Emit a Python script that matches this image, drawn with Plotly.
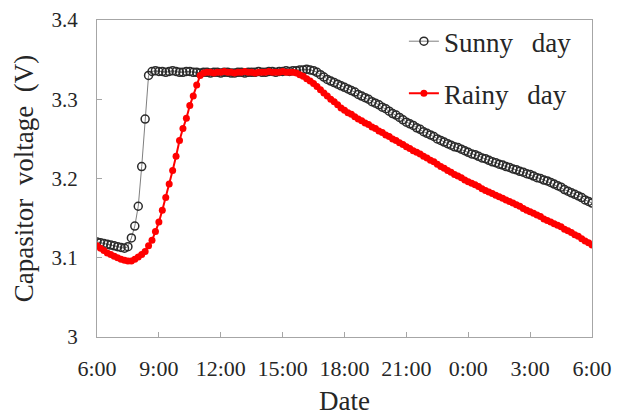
import pandas as pd
import plotly.graph_objects as go

# 10-minute samples from 6:00 to 6:00 next day (145 points)
times = pd.date_range("2000-01-01 06:00", "2000-01-02 06:00", freq="10min")

sunny = [
    # 6:00 - 8:40
    3.120, 3.119, 3.118, 3.117, 3.116, 3.115, 3.114, 3.113, 3.112, 3.114,
    3.125, 3.140, 3.165, 3.215, 3.275, 3.330, 3.335,
    # 8:50 - 15:50
    3.336, 3.335, 3.335, 3.334, 3.335, 3.336, 3.335, 3.334, 3.334, 3.335,
    3.335, 3.334, 3.334, 3.333, 3.334, 3.334, 3.333, 3.334, 3.334, 3.333,
    3.334, 3.334, 3.333, 3.333, 3.334, 3.334, 3.333, 3.334, 3.334, 3.334,
    3.335, 3.334, 3.334, 3.335, 3.335, 3.334, 3.335, 3.335, 3.336, 3.335,
    3.336, 3.336, 3.337,
    # 16:00 - 17:50
    3.337, 3.338, 3.337, 3.336, 3.334, 3.331, 3.328, 3.325, 3.323, 3.321,
    3.319, 3.317,
    # 18:00 - 6:00
    3.315, 3.313, 3.311, 3.309, 3.306, 3.304,
    3.302, 3.300, 3.297, 3.295, 3.293, 3.290,
    3.288, 3.285, 3.282, 3.280, 3.277, 3.274,
    3.271, 3.269, 3.267, 3.264, 3.262, 3.259,
    3.257, 3.255, 3.253, 3.250, 3.248, 3.246,
    3.244, 3.242, 3.240, 3.239, 3.237, 3.235,
    3.233, 3.231, 3.230, 3.228, 3.226, 3.225,
    3.223, 3.221, 3.220, 3.218, 3.217, 3.215,
    3.214, 3.212, 3.211, 3.209, 3.208, 3.206,
    3.205, 3.203, 3.201, 3.200, 3.198, 3.197,
    3.195, 3.193, 3.191, 3.189, 3.186, 3.184,
    3.182, 3.180, 3.178, 3.176, 3.173, 3.171,
    3.169,
]

rainy = [
    # 6:00 - 11:10
    3.115, 3.112, 3.109, 3.106, 3.104, 3.102, 3.100, 3.098, 3.097, 3.096,
    3.096, 3.098, 3.101, 3.104, 3.108, 3.115, 3.122, 3.133, 3.145, 3.160,
    3.176, 3.193, 3.210, 3.228, 3.248, 3.263, 3.276, 3.292, 3.304, 3.318,
    3.330, 3.333,
    # 11:20 - 15:20
    3.334, 3.334, 3.333, 3.334, 3.334, 3.335, 3.334, 3.334, 3.333, 3.334,
    3.334, 3.335, 3.334, 3.334, 3.333, 3.334, 3.334, 3.334, 3.335, 3.334,
    3.334, 3.334, 3.335, 3.334, 3.334,
    # 15:30 - 17:50
    3.334, 3.333, 3.331, 3.329, 3.326, 3.323, 3.320, 3.316, 3.312, 3.308,
    3.304, 3.300, 3.297, 3.293, 3.289,
    # 18:00 - 6:00
    3.286, 3.283, 3.281, 3.278, 3.275, 3.273,
    3.270, 3.268, 3.265, 3.263, 3.260, 3.258,
    3.255, 3.253, 3.250, 3.248, 3.245, 3.243,
    3.240, 3.238, 3.235, 3.233, 3.231, 3.228,
    3.226, 3.223, 3.221, 3.218, 3.215, 3.213,
    3.210, 3.208, 3.205, 3.203, 3.201, 3.198,
    3.196, 3.194, 3.192, 3.190, 3.187, 3.185,
    3.183, 3.181, 3.179, 3.177, 3.175, 3.173,
    3.171, 3.169, 3.167, 3.165, 3.162, 3.160,
    3.158, 3.156, 3.154, 3.152, 3.149, 3.147,
    3.145, 3.143, 3.141, 3.139, 3.136, 3.134,
    3.132, 3.129, 3.127, 3.124, 3.121, 3.119,
    3.116,
]

tick_times = pd.date_range("2000-01-01 06:00", "2000-01-02 06:00", freq="3h")
tick_labels = ["6:00", "9:00", "12:00", "15:00", "18:00", "21:00", "0:00", "3:00", "6:00"]

n = min(len(times), len(sunny), len(rainy))
x = times[:n]

FONT = "Liberation Serif, Times New Roman, serif"
AXIS_COLOR = "#a6a6a6"
TEXT = "#262626"

fig = go.Figure()
fig.add_trace(go.Scatter(
    x=x, y=sunny[:n], mode="lines+markers", name="Sunny\u00a0\u00a0\u2009day",
    legendgroup="s",
    line=dict(color="#7f7f7f", width=1),
    marker=dict(symbol="circle-open", size=8, color="#2b2b2b", line=dict(width=1.5, color="#2b2b2b")),
))
fig.add_trace(go.Scatter(
    x=x, y=rainy[:n], mode="lines+markers", name="Rainy\u00a0\u00a0\u2009day",
    legendgroup="r",
    line=dict(color="#ff0000", width=2),
    marker=dict(symbol="circle", size=7, color="#ff0000"),
))

fig.update_layout(
    width=624, height=414,
    margin=dict(l=89, r=40, t=12, b=85, autoexpand=False),
    paper_bgcolor="white", plot_bgcolor="white",
    font=dict(family=FONT, size=22, color=TEXT),
    showlegend=True,
    legend=dict(
        x=0.62, y=1.009, xanchor="left", yanchor="top",
        bgcolor="rgba(0,0,0,0)", borderwidth=0,
        font=dict(family=FONT, size=27, color=TEXT),
        traceorder="grouped", tracegroupgap=14,
    ),
)
fig.update_xaxes(
    range=[times[0], times[-1]],
    tickvals=tick_times, ticktext=tick_labels,
    tickfont=dict(family=FONT, size=22, color=TEXT),
    ticklabelstandoff=12,
    showline=True, linecolor=AXIS_COLOR, linewidth=1, mirror=True,
    ticks="inside", ticklen=5, tickcolor=AXIS_COLOR,
    showgrid=False, zeroline=False,
    title=dict(text="Date", font=dict(family=FONT, size=27, color=TEXT), standoff=10),
)
fig.update_yaxes(
    range=[3.0, 3.4], dtick=0.1, tick0=3.0,
    tickfont=dict(family=FONT, size=21, color=TEXT),
    ticklabelstandoff=14,
    showline=True, linecolor=AXIS_COLOR, linewidth=1, mirror=True,
    ticks="inside", ticklen=5, tickcolor=AXIS_COLOR,
    showgrid=False, zeroline=False,
    title=dict(text="Capasitor\u00a0\u00a0voltage\u00a0\u00a0(V)", font=dict(family=FONT, size=27, color=TEXT), standoff=10),
)

fig.write_html("out.html")
